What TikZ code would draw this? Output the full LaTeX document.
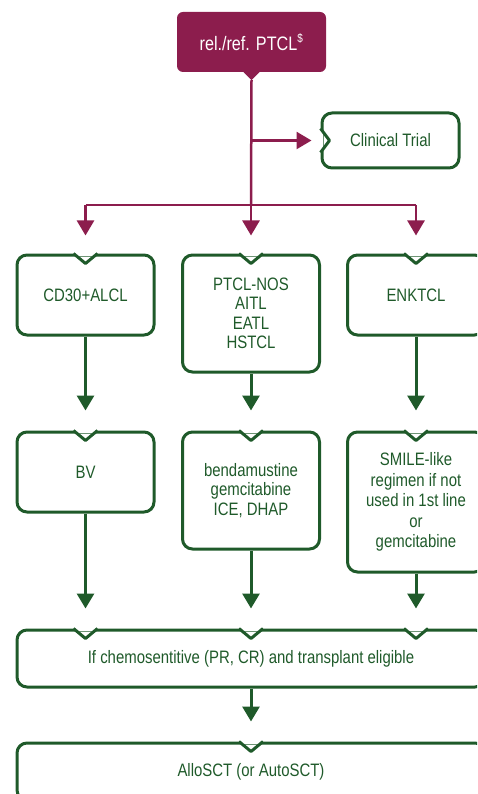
\documentclass[tikz,border=0pt]{standalone}
\usepackage{fontspec}
\setmainfont{Liberation Sans}[FakeStretch=0.83]
\usetikzlibrary{arrows.meta,positioning}
\definecolor{maroon}{HTML}{8C1D4D}
\definecolor{dkgreen}{HTML}{1F5A2A}

\begin{document}
\begin{tikzpicture}[
  x=1pt,y=-1pt,
  every node/.style={font=\fontsize{18}{19.5}\selectfont,text=dkgreen,align=center},
  gbox/.style={draw=dkgreen,line width=3pt,rounded corners=10pt,minimum width=137pt,inner sep=0pt},
  edge/.style={draw=dkgreen,line width=3pt,line join=round},
  mline/.style={draw=maroon,line width=2.5pt},
  marr/.style={mline,-{Triangle[length=15pt,width=17pt]}},
  garr/.style={draw=dkgreen,line width=3pt,-{Triangle[length=15pt,width=17pt]},shorten >=20pt}
]
\useasboundingbox (0,0) rectangle (477,794);
\clip (0,0) rectangle (477,794);
% top
\node[fill=maroon,rounded corners=6pt,minimum width=149pt,minimum height=60pt,
  text=white,font=\fontsize{19.5}{22}\selectfont] (ref) at (251.5,42) {rel./ref. PTCL\textsuperscript{\fontsize{12}{12}\selectfont\$}};
\fill[maroon] ([xshift=-8pt]ref.south) -- ([xshift=8pt]ref.south) -- ([yshift=-8pt]ref.south) -- cycle;
\node[gbox,minimum height=55pt] (trial) at (390.5,140.5) {Clinical Trial};
\coordinate (split) at (251,205);
% first line
\node[gbox,minimum height=80pt] (cd30) at (85.5,295) {CD30+ALCL};
\node[gbox,minimum height=117pt] (ptcl) at (251,313.5) {PTCL-NOS\\AITL\\EATL\\HSTCL};
\node[gbox,minimum height=80pt] (enk) at (416,295) {ENKTCL};
% second line
\node[gbox,minimum height=80pt] (bv) at (85.5,472) {BV};
\node[gbox,minimum height=117pt] (benda) at (251,490.5) {bendamustine\\gemcitabine\\ICE, DHAP};
\node[gbox,minimum height=140pt,font=\fontsize{18}{20.5}\selectfont] (smile) at (416,502) {SMILE-like\\regimen if not\\used in 1st line\\or\\gemcitabine};
% transplant
\node[gbox,minimum width=468pt,minimum height=57pt] (chemo) at (251,658.5) {If chemosentitive (PR, CR) and transplant eligible};
\node[gbox,minimum width=468pt,minimum height=57pt] (allo) at (251,771.5) {AlloSCT (or AutoSCT)};
% notches
\foreach \p in {cd30.north,ptcl.north,enk.north,bv.north,benda.north,smile.north,
    cd30 |- chemo.north,chemo.north,enk |- chemo.north,allo.north} {
  \fill[white] ([xshift=-11pt,yshift=2pt]\p) rectangle ([xshift=11pt,yshift=-2pt]\p);
  \draw[edge] ([xshift=-12pt]\p) -- ([yshift=-10pt]\p) -- ([xshift=12pt]\p);
}
\fill[white] ([xshift=-2pt,yshift=-11pt]trial.west) rectangle ([xshift=2pt,yshift=11pt]trial.west);
\draw[edge] ([yshift=-12pt]trial.west) -- ([xshift=9pt]trial.west) -- ([yshift=12pt]trial.west);
% maroon connectors
\draw[mline] ([yshift=-8pt]ref.south) -- (split);
\draw[marr,shorten >=9pt] (ref.south |- trial.west) -- (trial.west);
\draw[mline] (split -| cd30) -- (split -| enk);
\foreach \n in {cd30,ptcl,enk}
  \draw[marr,shorten >=18pt] (split -| \n.north) -- (\n.north);
% green connectors
\draw[garr] (cd30.south) -- (bv.north);
\draw[garr] (ptcl.south) -- (benda.north);
\draw[garr] (enk.south) -- (smile.north);
\draw[garr] (bv.south) -- (bv.south |- chemo.north);
\draw[garr] (benda.south) -- (chemo.north);
\draw[garr] (smile.south) -- (smile.south |- chemo.north);
\draw[garr] (chemo.south) -- (allo.north);
\end{tikzpicture}
\end{document}
